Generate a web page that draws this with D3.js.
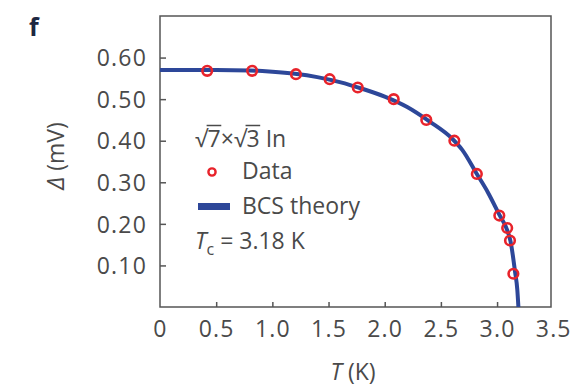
<!DOCTYPE html>
<meta charset="utf-8">
<style>
body { margin: 0; background: #fff; }
text { font-family: "Open Sans", sans-serif; fill: #4a4a4a; }
.tick text { font-size: 23px; letter-spacing: 1.2px; }
.legend text { font-size: 23px; }
</style>
<body>
<script src="https://cdn.jsdelivr.net/npm/d3@7"></script>
<script>
// measured points (K, mV)
var dataT = [0.42, 0.82, 1.21, 1.51, 1.76, 2.08, 2.37, 2.62, 2.82, 3.02, 3.09, 3.115, 3.145];
var dataGap = [0.568, 0.568, 0.560, 0.548, 0.528, 0.500, 0.450, 0.400, 0.320, 0.220, 0.190, 0.160, 0.080];

// BCS curve
var bcsT = [0, 0.5, 0.8, 1.0, 1.2, 1.4, 1.6, 1.8, 2.0, 2.2, 2.4, 2.6, 2.69, 2.82, 2.92, 3.02, 3.09, 3.12, 3.16, 3.18, 3.19];
var bcsGap = [0.570, 0.570, 0.569, 0.566, 0.561, 0.553, 0.541, 0.525, 0.506, 0.481, 0.446, 0.405, 0.378, 0.320, 0.275, 0.222, 0.185, 0.158, 0.085, 0.042, 0.0];

var xTicks = [0.5, 1.0, 1.5, 2.0, 2.5, 3.0];
var xLabels = [0, 0.5, 1.0, 1.5, 2.0, 2.5, 3.0, 3.5];
var yTicks = [0.1, 0.2, 0.3, 0.4, 0.5, 0.6];

var width = 588, height = 390;
var margin = {top: 16, right: 37, bottom: 83, left: 160};
var w = width - margin.left - margin.right;
var h = height - margin.top - margin.bottom;

var svg = d3.select("body").append("svg")
    .attr("width", width)
    .attr("height", height);

var g = svg.append("g")
    .attr("transform", "translate(" + margin.left + "," + margin.top + ")");

var x = d3.scaleLinear().domain([0, 3.48]).range([0, w]);
var y = d3.scaleLinear().domain([0, 0.7]).range([h, 0]);

// y axis: inward ticks, labels outside
var yAxis = g.append("g")
    .call(d3.axisLeft(y).tickValues(yTicks).tickSize(-6).tickPadding(13)
        .tickFormat(d3.format(".2f")));
yAxis.select(".domain").remove();
yAxis.selectAll(".tick line").attr("stroke", "#555").attr("stroke-width", 1.5);
yAxis.selectAll(".tick text").attr("dy", "0.36em");

// x axis: ticks drawn separately from labels (labels include 0 and 3.5)
var xAxis = g.append("g")
    .attr("transform", "translate(0," + h + ")")
    .call(d3.axisBottom(x).tickValues(xTicks).tickSize(-5).tickFormat(""));
xAxis.select(".domain").remove();
xAxis.selectAll(".tick line").attr("stroke", "#555").attr("stroke-width", 1.5);

var xLab = g.append("g")
    .attr("transform", "translate(0," + h + ")")
    .call(d3.axisBottom(x).tickValues(xLabels).tickSize(0).tickPadding(14)
        .tickFormat(function(d) { return d === 0 ? "0" : d3.format(".1f")(d); }));
xLab.select(".domain").remove();
xLab.selectAll(".tick text").attr("dy", "0.71em");

// frame
g.append("rect")
    .attr("width", w)
    .attr("height", h)
    .attr("fill", "none")
    .attr("stroke", "#555")
    .attr("stroke-width", 1.5);

// BCS curve
var line = d3.line()
    .x(function(d, i) { return x(bcsT[i]); })
    .y(function(d, i) { return y(bcsGap[i]); })
    .curve(d3.curveMonotoneX);

g.append("path")
    .datum(bcsT)
    .attr("d", line)
    .attr("fill", "none")
    .attr("stroke", "#2d4799")
    .attr("stroke-width", 4);

// data
g.selectAll(".pt")
    .data(dataT)
  .enter().append("circle")
    .attr("class", "pt")
    .attr("cx", function(d) { return x(d); })
    .attr("cy", function(d, i) { return y(dataGap[i]); })
    .attr("r", 4.8)
    .attr("fill", "none")
    .attr("stroke", "#e8232b")
    .attr("stroke-width", 2.6);

// panel letter
svg.append("text")
    .attr("x", 29)
    .attr("y", 36)
    .style("font-size", "25px")
    .style("font-weight", "bold")
    .style("fill", "#1d2741")
    .text("f");

// axis titles
svg.append("text")
    .attr("transform", "translate(64,156) rotate(-90)")
    .attr("text-anchor", "middle")
    .style("font-size", "23px")
    .html('<tspan font-style="italic">Δ</tspan> (mV)');

svg.append("text")
    .attr("x", 353)
    .attr("y", 380)
    .attr("text-anchor", "middle")
    .style("font-size", "23px")
    .html('<tspan font-style="italic">T</tspan> (K)');

// legend
var leg = svg.append("g").attr("class", "legend");

var l1 = leg.append("text")
    .attr("x", 195)
    .attr("y", 147)
    .text("√7×√3  In");
// vinculum over the radicands
[1, 4].forEach(function(i) {
    var e = l1.node().getExtentOfChar(i);
    leg.append("line")
        .attr("x1", e.x - 1).attr("x2", e.x + e.width + 0.5)
        .attr("y1", e.y + 3.5).attr("y2", e.y + 3.5)
        .attr("stroke", "#4a4a4a").attr("stroke-width", 1.5);
});

leg.append("circle")
    .attr("cx", 212).attr("cy", 172).attr("r", 3.6)
    .attr("fill", "none").attr("stroke", "#e8232b").attr("stroke-width", 2.4);
leg.append("text").attr("x", 242).attr("y", 179).text("Data");

leg.append("rect")
    .attr("x", 198).attr("y", 203).attr("width", 32).attr("height", 7)
    .attr("fill", "#2d4799");
leg.append("text").attr("x", 242).attr("y", 214).text("BCS theory");

leg.append("text")
    .attr("x", 195)
    .attr("y", 249)
    .html('<tspan font-style="italic">T</tspan><tspan font-size="16px" dy="6">c</tspan><tspan dy="-6"> = 3.18 K</tspan>');
</script>
</body>
